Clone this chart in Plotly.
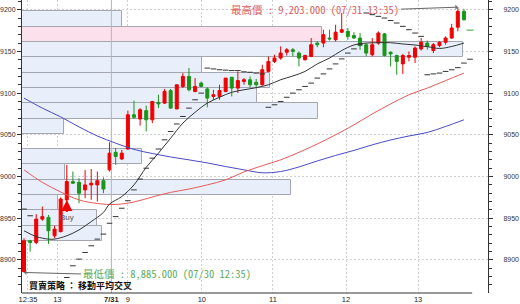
import plotly.graph_objects as go

# ---------------- data ----------------
opens  = [8886, 8923, 8921, 8949, 8951, 8929, 8934, 8972, 8994, 8993, 8984, 8990, 8990, 8995,
          9008, 9029, 9021, 9033, 9074, 9069, 9079, 9068, 9089, 9088, 9103, 9081, 9108, 9120,
          9102, 9112, 9105, 9096, 9096, 9102, 9119, 9106, 9114, 9116, 9113, 9110, 9126, 9138,
          9142, 9149, 9152, 9148, 9140, 9144, 9160, 9160, 9166, 9164, 9173, 9174, 9169, 9166,
          9158, 9146, 9160, 9171, 9149, 9145, 9135, 9143, 9143, 9153, 9160, 9151, 9157, 9161,
          9166, 9179, 9198]
highs  = [8926, 8924, 8955, 8964, 8954, 8941, 8975, 9014, 9006, 8998, 9008, 9009, 9006, 8999,
          9041, 9034, 9032, 9079, 9091, 9082, 9085, 9090, 9098, 9105, 9105, 9110, 9124, 9130,
          9118, 9114, 9107, 9104, 9110, 9118, 9119, 9126, 9118, 9120, 9117, 9134, 9144, 9146,
          9156, 9154, 9154, 9150, 9146, 9166, 9162, 9176, 9176, 9182, 9196, 9178, 9173, 9172,
          9160, 9166, 9174, 9172, 9150, 9146, 9147, 9150, 9156, 9166, 9163, 9160, 9162, 9168,
          9183, 9203, 9201]
lows   = [8885, 8910, 8919, 8947, 8919, 8926, 8933, 8962, 8991, 8968, 8974, 8972, 8970, 8980,
          9006, 9014, 9020, 9032, 9069, 9061, 9054, 9064, 9082, 9087, 9081, 9081, 9106, 9102,
          9101, 9107, 9083, 9092, 9092, 9101, 9096, 9100, 9110, 9107, 9107, 9109, 9125, 9136,
          9140, 9145, 9144, 9132, 9139, 9143, 9155, 9155, 9163, 9162, 9172, 9164, 9165, 9152,
          9144, 9144, 9158, 9144, 9132, 9122, 9123, 9138, 9136, 9151, 9152, 9148, 9155, 9158,
          9165, 9174, 9187]
closes = [8923, 8921, 8949, 8952, 8935, 8937, 8973, 8994, 8992, 8980, 8990, 8992, 8995, 8985,
          9028, 9024, 9028, 9074, 9071, 9080, 9068, 9090, 9087, 9102, 9082, 9110, 9120, 9104,
          9108, 9108, 9094, 9098, 9103, 9118, 9106, 9115, 9116, 9110, 9110, 9128, 9138, 9142,
          9148, 9152, 9150, 9142, 9145, 9158, 9158, 9170, 9165, 9173, 9176, 9168, 9166, 9157,
          9148, 9158, 9172, 9145, 9147, 9138, 9145, 9145, 9154, 9161, 9156, 9158, 9161, 9166,
          9178, 9198, 9188]

# moving averages (bar index, value)
ma_short_idx = [0, 2, 4, 5, 7, 9, 11, 13, 14, 16, 18, 20, 22, 24, 26, 28, 30, 32, 34, 36, 38,
                40, 42, 44, 46, 48, 50, 52, 54, 56, 58, 60, 62, 64, 66, 68, 70, 72]
ma_short_val = [8935, 8928, 8925, 8925, 8929, 8936, 8946, 8957, 8967, 8976, 8990, 9011, 9028,
                9046, 9064, 9077, 9088, 9095, 9101, 9104, 9106.5, 9110, 9116, 9120.5, 9126,
                9135, 9142, 9151, 9157.7, 9160, 9160.4, 9160.4, 9158.9, 9157.7, 9155.7, 9153.5,
                9155.9, 9160]
ma_mid_idx = [0, 3, 6, 9, 12, 15, 18, 21, 24, 27, 30, 33, 36, 39, 42, 45, 48, 51, 54, 57, 60,
              63, 66, 69, 72]
ma_mid_val = [9008, 8993, 8981.5, 8972, 8967.7, 8966.5, 8969.5, 8975.5, 8981, 8985, 8990, 8996,
              9005.5, 9013, 9020, 9029, 9039, 9050, 9062, 9075, 9087, 9098, 9106, 9115, 9124]
ma_long_idx = [0, 3, 6, 9, 12, 15, 18, 21, 24, 27, 30, 33, 36, 39, 42, 45, 48, 51, 54, 57, 60,
               63, 66, 69, 72]
ma_long_val = [9094, 9082, 9071.5, 9059.5, 9048.6, 9040, 9032.5, 9027.6, 9023.4, 9020, 9016.3,
               9012, 9008, 9004.5, 9006, 9011.5, 9018.7, 9025.3, 9031.3, 9038, 9043.8, 9048.6,
               9052.8, 9060, 9068]

# parabolic SAR dots (bar index, value)
sar_idx = [0, 1, 7, 8, 9, 10, 11, 12, 13, 14, 15, 16, 17, 18, 19, 20, 21, 22, 23, 24, 25, 26,
           27, 28, 29, 30, 31, 32, 33, 34, 35, 36, 37, 38, 39, 40, 41, 42, 43, 44, 45, 46, 47,
           48, 49, 50, 51, 52, 53, 54, 55, 56, 57, 58, 59, 60, 61, 62, 63, 64, 65, 66, 67, 68,
           69, 70, 71, 72, 73]
sar_val = [8961, 8953, 8879, 8893, 8901, 8909, 8917, 8925, 8931, 8944, 8952, 8962, 8971, 8984,
           8997, 9010, 9022, 9033, 9044, 9054, 9063, 9072, 9082, 9092, 9100, 9130, 9129, 9128,
           9127.5, 9127, 9127, 9125.5, 9125, 9124, 9123, 9083, 9086, 9090, 9095, 9100, 9104,
           9108, 9112, 9118, 9123, 9129, 9135, 9141, 9148, 9153, 9158, 9196, 9194, 9192, 9190,
           9187, 9184, 9180, 9176, 9172, 9168, 9122, 9123, 9124, 9126, 9128, 9130.5, 9136,
           9140.6]

# volume-by-price profile (bottom bin -> top bin)
profile_low = 8886
profile_high = 9198
profile_vol = [0, 0, 80, 75, 36, 269, 43, 120, 0, 42, 296, 235, 248, 180, 441, 300, 100]
profile_hot_bin = 15

# x-axis tick marks (bar index) and labels
tick_pos = [0.65, 5.45, 14.3, 17, 29.1, 40.75, 52.7, 64.5]
tick_text = ['12:35', '13', '<b>7/31</b>', '9', '10', '11', '12', '13']
session_break = 14.3

buy_signal_bar = 7
last_pending_price = 9175.5
high_time = '07/31 13:35'
low_time = '07/30 12:35'
strategy_text = '買賣策略 ： 移動平均交叉'

# ---------------- figure ----------------
Y_RANGE = [8860.4, 9211.6]
X_RANGE = [-0.33, 75.94]

n = len(opens)
idx = list(range(n))
nb = len(profile_vol)
bh = (profile_high - profile_low) / nb
centers = [profile_low + (k + 0.5) * bh for k in range(nb)]
keep = [k for k in range(nb) if profile_vol[k] > 0]

fig = go.Figure()

fig.add_trace(go.Bar(
    y=[centers[k] for k in keep], x=[profile_vol[k] for k in keep],
    width=[bh] * len(keep), orientation='h', xaxis='x', yaxis='y',
    marker=dict(color=['#fce1ec' if k == profile_hot_bin else '#e8effb' for k in keep],
                line=dict(color='#a5a7b0', width=1)),
    hoverinfo='skip'))

# session separator
fig.add_trace(go.Scatter(x=[session_break, session_break], y=Y_RANGE, mode='lines',
                         line=dict(color='#b5b5b5', width=1), xaxis='x2', yaxis='y',
                         hoverinfo='skip'))

fig.add_trace(go.Candlestick(
    x=idx, open=opens, high=highs, low=lows, close=closes, xaxis='x2', yaxis='y',
    increasing=dict(line=dict(color='#f00000', width=1), fillcolor='#f00000'),
    decreasing=dict(line=dict(color='#1a961a', width=1), fillcolor='#1a961a'),
    whiskerwidth=0, hoverinfo='skip'))

fig.add_trace(go.Scatter(x=ma_long_idx, y=ma_long_val, mode='lines', xaxis='x2', yaxis='y',
                         line=dict(color='#4a4ac8', width=1, shape='spline'), hoverinfo='skip'))
fig.add_trace(go.Scatter(x=ma_mid_idx, y=ma_mid_val, mode='lines', xaxis='x2', yaxis='y',
                         line=dict(color='#e65a5a', width=1, shape='spline'), hoverinfo='skip'))
fig.add_trace(go.Scatter(x=ma_short_idx, y=ma_short_val, mode='lines', xaxis='x2', yaxis='y',
                         line=dict(color='#333333', width=1, shape='spline'), hoverinfo='skip'))
fig.add_trace(go.Scatter(x=sar_idx, y=sar_val, mode='markers', xaxis='x2', yaxis='y',
                         marker=dict(symbol='line-ew', size=4,
                                     line=dict(color='#333333', width=1)),
                         hoverinfo='skip'))
fig.add_trace(go.Scatter(x=[n], y=[last_pending_price], mode='markers', xaxis='x2', yaxis='y',
                         marker=dict(symbol='line-ew', size=5,
                                     line=dict(color='#2aa02a', width=1)),
                         hoverinfo='skip'))
# right axis carrier
fig.add_trace(go.Scatter(x=[idx[0]], y=[closes[0]], mode='markers', xaxis='x2', yaxis='y2',
                         marker=dict(size=1, opacity=0), hoverinfo='skip'))

ihi = max(range(n), key=lambda i: highs[i])
ilo = min(range(n), key=lambda i: lows[i])
mono = 'Noto Sans Mono CJK TC, Liberation Mono, Noto Sans CJK TC, monospace'

fig.add_annotation(x=ihi, y=highs[ihi], xref='x2', yref='y', xanchor='right',
                   text=f'最高價 : {highs[ihi]:,.3f} ({high_time})',
                   font=dict(family=mono, size=10.5, color='#e05a5a'),
                   showarrow=True, arrowhead=1, arrowsize=0.8, arrowwidth=1,
                   arrowcolor='#666666', ax=-57, ay=2)
fig.add_annotation(x=ilo, y=lows[ilo], xref='x2', yref='y', xanchor='left',
                   text=f'最低價 : {lows[ilo]:,.3f} ({low_time})',
                   font=dict(family=mono, size=10.5, color='#5aaa5a'),
                   showarrow=True, arrowhead=1, arrowsize=0.8, arrowwidth=1,
                   arrowcolor='#666666', ax=57, ay=1.5)
fig.add_annotation(x=buy_signal_bar, y=min(opens[buy_signal_bar], closes[buy_signal_bar]),
                   xref='x2', yref='y', text='Buy',
                   font=dict(family='Liberation Sans, Arial', size=8, color='#555555'),
                   showarrow=True, arrowhead=2, arrowsize=1.1, arrowwidth=2,
                   arrowcolor='#f00000', ax=0, ay=18, standoff=0)
fig.add_annotation(x=0.01, y=0.024, xref='paper', yref='paper', xanchor='left',
                   yanchor='middle', text=f'<b>{strategy_text}</b>', showarrow=False,
                   font=dict(family='Noto Sans CJK TC', size=9, color='#111111'))

fig.add_shape(type='line', xref='paper', yref='paper', x0=0, x1=0.966, y0=0, y1=0,
              line=dict(color='#333333', width=1))

grid = dict(showgrid=True, gridcolor='#d0d0d0', griddash='2px,2px', gridwidth=1)
tickfont = dict(family='Liberation Sans, Arial', size=7, color='#333333')
yax = dict(range=Y_RANGE, dtick=50, tick0=0, showline=True, linecolor='#333333', linewidth=1,
           ticks='outside', ticklen=4, tickcolor='#333333', tickfont=tickfont, zeroline=False,
           minor=dict(dtick=10, tick0=0, ticks='outside', ticklen=3, tickcolor='#333333',
                      showgrid=False))

fig.update_layout(
    width=520, height=304, margin=dict(l=22, r=32, t=0, b=11),
    paper_bgcolor='white', plot_bgcolor='white', showlegend=False,
    bargap=0, boxgap=0.3,
    xaxis=dict(range=[0, 466], visible=False, fixedrange=True),
    xaxis2=dict(overlaying='x', anchor='y', range=X_RANGE, tickvals=tick_pos,
                ticktext=tick_text, ticks='', showline=False, zeroline=False,
                tickfont=dict(family='Liberation Sans, Arial', size=7.5, color='#222222'),
                rangeslider=dict(visible=False), **grid),
    yaxis=dict(side='left', **yax, **grid),
    yaxis2=dict(overlaying='y', side='right', anchor='x2', showgrid=False,
                ticklabelstandoff=9, **yax),
)

fig.write_html('out.html')
